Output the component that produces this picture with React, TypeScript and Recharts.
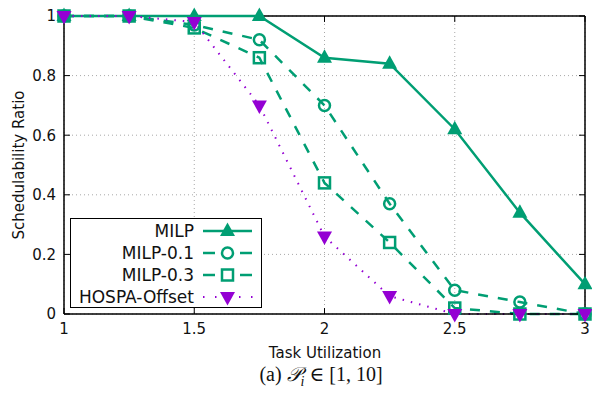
import React from 'react';
import { LineChart, Line, XAxis, YAxis, CartesianGrid, ReferenceLine } from 'recharts';

const utilization = [1, 1.25, 1.5, 1.75, 2, 2.25, 2.5, 2.75, 3];
const milp = [1, 1, 1, 1, 0.86, 0.84, 0.62, 0.34, 0.1];
const milp01 = [1, 1, 0.97, 0.92, 0.7, 0.37, 0.08, 0.04, 0];
const milp03 = [1, 1, 0.96, 0.86, 0.44, 0.24, 0.02, 0, 0];
const hospa = [1, 1, 0.98, 0.7, 0.26, 0.06, 0, 0, 0];
const xTicks = [1, 1.5, 2, 2.5, 3];
const yTicks = [0, 0.2, 0.4, 0.6, 0.8, 1];
const seriesNames = ['MILP', 'MILP-0.1', 'MILP-0.3', 'HOSPA-Offset'];

const GREEN = '#009e73';
const PURPLE = '#9400d3';
const FONT = '"DejaVu Sans", Verdana, sans-serif';

const data = utilization.map((u, i) => ({
  u,
  milp: milp[i],
  milp01: milp01[i],
  milp03: milp03[i],
  hospa: hospa[i],
}));

const TriUp = ({ cx, cy, color }: any) => (
  <path d={`M${cx},${cy - 8.5} L${cx + 7.5},${cy + 5} L${cx - 7.5},${cy + 5} Z`} fill={color} stroke="none" />
);
const TriDown = ({ cx, cy, color }: any) => (
  <path d={`M${cx},${cy + 8.5} L${cx + 7.5},${cy - 5} L${cx - 7.5},${cy - 5} Z`} fill={color} stroke="none" />
);
const Circ = ({ cx, cy, color }: any) => (
  <circle cx={cx} cy={cy} r={5.5} fill="none" stroke={color} strokeWidth={2.5} />
);
const Sq = ({ cx, cy, color }: any) => (
  <rect x={cx - 5.5} y={cy - 5.5} width={11} height={11} fill="none" stroke={color} strokeWidth={2.5} />
);

const mkDot = (Shape: any, color: string, name: string) => (props: any) => {
  if (props.cx == null || props.cy == null) return <g key={`${name}-${props.index}`} />;
  return (
    <g key={`${name}-${props.index}`}>
      <Shape cx={props.cx} cy={props.cy} color={color} />
    </g>
  );
};

const Legend = () => {
  const rows = [13, 35, 57, 79];
  return (
    <svg
      width={192}
      height={90}
      style={{ position: 'absolute', left: 70, top: 218, overflow: 'visible' }}
    >
      <rect x={0.5} y={0.5} width={191} height={89} fill="#fff" stroke="#000" strokeWidth={1} />
      {seriesNames.map((n, i) => (
        <text
          key={n}
          x={124}
          y={rows[i] + 6}
          textAnchor="end"
          fontFamily={FONT}
          fontSize={17}
          fill="#111"
        >
          {n}
        </text>
      ))}
      <line x1={133} x2={182} y1={rows[0]} y2={rows[0]} stroke={GREEN} strokeWidth={2.5} />
      <TriUp cx={157.5} cy={rows[0]} color={GREEN} />
      <line x1={133} x2={145} y1={rows[1]} y2={rows[1]} stroke={GREEN} strokeWidth={2.5} />
      <line x1={170} x2={182} y1={rows[1]} y2={rows[1]} stroke={GREEN} strokeWidth={2.5} />
      <Circ cx={157.5} cy={rows[1]} color={GREEN} />
      <line x1={133} x2={145} y1={rows[2]} y2={rows[2]} stroke={GREEN} strokeWidth={2.5} />
      <line x1={170} x2={182} y1={rows[2]} y2={rows[2]} stroke={GREEN} strokeWidth={2.5} />
      <Sq cx={157.5} cy={rows[2]} color={GREEN} />
      <line x1={133} x2={134.5} y1={rows[3]} y2={rows[3]} stroke={PURPLE} strokeWidth={2} />
      <line x1={145} x2={146.5} y1={rows[3]} y2={rows[3]} stroke={PURPLE} strokeWidth={2} />
      <line x1={169} x2={170.5} y1={rows[3]} y2={rows[3]} stroke={PURPLE} strokeWidth={2} />
      <line x1={181} x2={182.5} y1={rows[3]} y2={rows[3]} stroke={PURPLE} strokeWidth={2} />
      <TriDown cx={157.5} cy={rows[3]} color={PURPLE} />
    </svg>
  );
};

export default function App() {
  const tickStyle = { fill: '#111', fontSize: 15, fontFamily: FONT };
  return (
    <div style={{ position: 'absolute', left: 0, top: 0, width: 592, height: 395, background: '#fff' }}>
      <LineChart
        width={592}
        height={395}
        data={data}
        margin={{ top: 16, right: 7, left: 0, bottom: 51 }}
      >
        <CartesianGrid stroke="#a8a8a8" strokeDasharray="1 3" strokeWidth={1} />
        <XAxis
          dataKey="u"
          type="number"
          domain={[1, 3]}
          ticks={xTicks}
          height={30}
          tickLine={false}
          tickSize={6}
          tickMargin={3}
          axisLine={{ stroke: '#000', strokeWidth: 1.5 }}
          tick={tickStyle}
          label={{
            content: () => (
              <text x={325} y={358} textAnchor="middle" fontFamily={FONT} fontSize={15} fill="#111">
                Task Utilization
              </text>
            ),
          }}
        />
        <YAxis
          type="number"
          domain={[0, 1]}
          ticks={yTicks}
          width={64}
          tickLine={false}
          tickSize={6}
          tickMargin={2}
          axisLine={{ stroke: '#000', strokeWidth: 1.5 }}
          tick={tickStyle}
          label={{
            content: () => (
              <text
                x={24}
                y={165}
                transform="rotate(-90 24 165)"
                textAnchor="middle"
                fontFamily={FONT}
                fontSize={15}
                fill="#111"
              >
                Schedulability Ratio
              </text>
            ),
          }}
        />
        <ReferenceLine y={1} stroke="#000" strokeWidth={1.5} />
        <ReferenceLine x={3} stroke="#000" strokeWidth={1.5} />
        {xTicks.map((t) => (
          <ReferenceLine
            key={`xb-${t}`}
            segment={[{ x: t, y: 0 }, { x: t, y: 0.02 }]}
            stroke="#000"
            strokeWidth={1}
          />
        ))}
        {xTicks.map((t) => (
          <ReferenceLine
            key={`xt-${t}`}
            segment={[{ x: t, y: 1 }, { x: t, y: 0.98 }]}
            stroke="#000"
            strokeWidth={1}
          />
        ))}
        {yTicks.map((t) => (
          <ReferenceLine
            key={`yl-${t}`}
            segment={[{ x: 1, y: t }, { x: 1.023, y: t }]}
            stroke="#000"
            strokeWidth={1}
          />
        ))}
        {yTicks.map((t) => (
          <ReferenceLine
            key={`yr-${t}`}
            segment={[{ x: 3, y: t }, { x: 2.977, y: t }]}
            stroke="#000"
            strokeWidth={1}
          />
        ))}
        <Line
          dataKey="milp"
          name={seriesNames[0]}
          stroke={GREEN}
          strokeWidth={2.5}
          dot={mkDot(TriUp, GREEN, 'm')}
          isAnimationActive={false}
        />
        <Line
          dataKey="milp01"
          name={seriesNames[1]}
          stroke={GREEN}
          strokeWidth={2.5}
          strokeDasharray="10 10"
          dot={mkDot(Circ, GREEN, 'm1')}
          isAnimationActive={false}
        />
        <Line
          dataKey="milp03"
          name={seriesNames[2]}
          stroke={GREEN}
          strokeWidth={2.5}
          strokeDasharray="10 10"
          dot={mkDot(Sq, GREEN, 'm3')}
          isAnimationActive={false}
        />
        <Line
          dataKey="hospa"
          name={seriesNames[3]}
          stroke={PURPLE}
          strokeWidth={2}
          strokeDasharray="1.5 7"
          dot={mkDot(TriDown, PURPLE, 'h')}
          isAnimationActive={false}
        />
      </LineChart>
      <Legend />
      <div
        style={{
          position: 'absolute',
          left: 0,
          width: 642,
          top: 362,
          textAlign: 'center',
          fontFamily: '"Liberation Serif", "DejaVu Serif", serif',
          fontSize: 20,
          color: '#111',
          whiteSpace: 'nowrap',
        }}
      >
        (a) <span style={{ fontStyle: 'italic', fontFamily: '"DejaVu Serif", serif' }}>𝒫</span>
        <sub style={{ fontStyle: 'italic', fontSize: 14 }}>i</sub> ∈ [1, 10]
      </div>
    </div>
  );
}
